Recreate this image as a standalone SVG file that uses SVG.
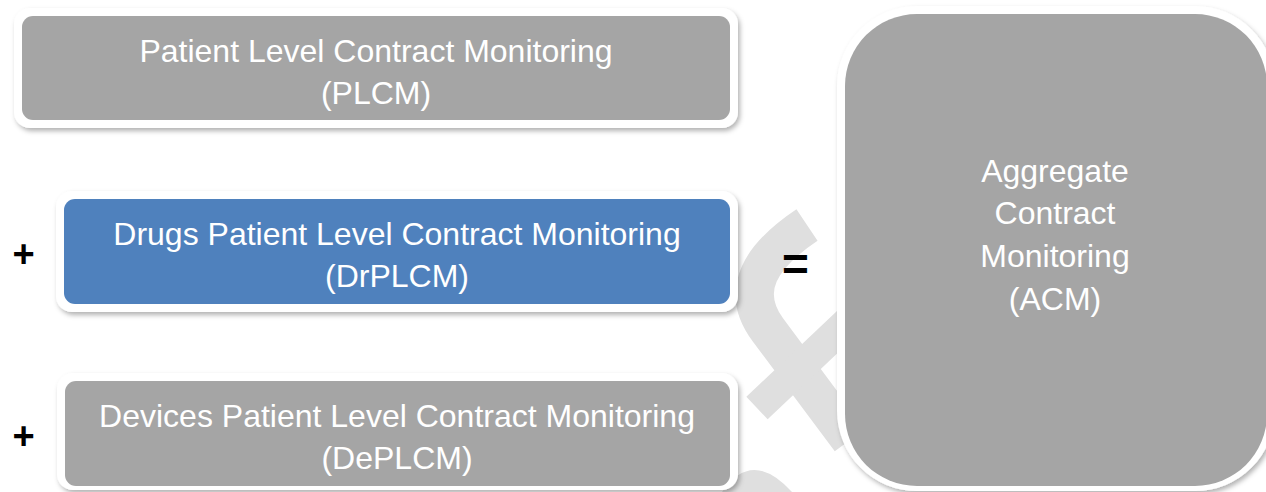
<svg xmlns="http://www.w3.org/2000/svg" width="1266" height="492" viewBox="0 0 1266 492">
<defs>
<filter id="sh" x="-10%" y="-10%" width="120%" height="130%">
<feDropShadow dx="2" dy="3" stdDeviation="2.5" flood-color="#000" flood-opacity="0.3"/>
</filter>
<style>
.frame{fill:#fff;filter:url(#sh)}
.gray{fill:#a5a5a5}
.blue{fill:#4f81bd}
.lbl{fill:#fff;font-family:"Liberation Sans",Arial,sans-serif;font-size:32px;text-anchor:middle}
.op{fill:#000;font-family:"Liberation Sans",Arial,sans-serif;font-weight:bold;text-anchor:middle}
.wm{fill:none;stroke:#dfdfdf;stroke-linecap:butt}
</style>
</defs>
<rect width="1266" height="492" fill="#fff"/>
<g id="watermark">
<path class="wm" d="M 807 225 C 762 255, 738 290, 768 330 L 850 440" stroke-width="38"/>
<path class="wm" d="M 757 408 L 850 320" stroke-width="31"/>
<path d="M 722 492 Q 752 448 792 492 Z" fill="#dfdfdf"/>
</g>
<g id="plcm">
<rect class="frame" x="14" y="8" width="724" height="120" rx="16"/>
<rect class="gray" x="22" y="16" width="708" height="104" rx="11"/>
<text class="lbl" x="376" y="62">Patient Level Contract Monitoring</text>
<text class="lbl" x="376" y="104">(PLCM)</text>
</g>
<g id="plus1"><text class="op" x="23.5" y="267" font-size="38">+</text></g>
<g id="drplcm">
<rect class="frame" x="56" y="191" width="682" height="121" rx="16"/>
<rect class="blue" x="64" y="199" width="666" height="105" rx="11"/>
<text class="lbl" x="397" y="245">Drugs Patient Level Contract Monitoring</text>
<text class="lbl" x="397" y="287">(DrPLCM)</text>
</g>
<g id="plus2"><text class="op" x="23.5" y="449" font-size="38">+</text></g>
<g id="deplcm">
<rect class="frame" x="57" y="373" width="681" height="117" rx="16"/>
<rect class="gray" x="65" y="381" width="665" height="105" rx="11"/>
<text class="lbl" x="397" y="427">Devices Patient Level Contract Monitoring</text>
<text class="lbl" x="397" y="469">(DePLCM)</text>
</g>
<g id="equals"><text class="op" x="795.5" y="280" font-size="46">=</text></g>
<g id="acm">
<rect class="frame" x="837" y="6" width="438" height="485" rx="80"/>
<rect class="gray" x="845" y="14" width="422" height="472" rx="72"/>
<text class="lbl" x="1055" y="182">Aggregate</text>
<text class="lbl" x="1055" y="224">Contract</text>
<text class="lbl" x="1055" y="267">Monitoring</text>
<text class="lbl" x="1055" y="310">(ACM)</text>
</g>
<g id="connectors"></g>
</svg>
